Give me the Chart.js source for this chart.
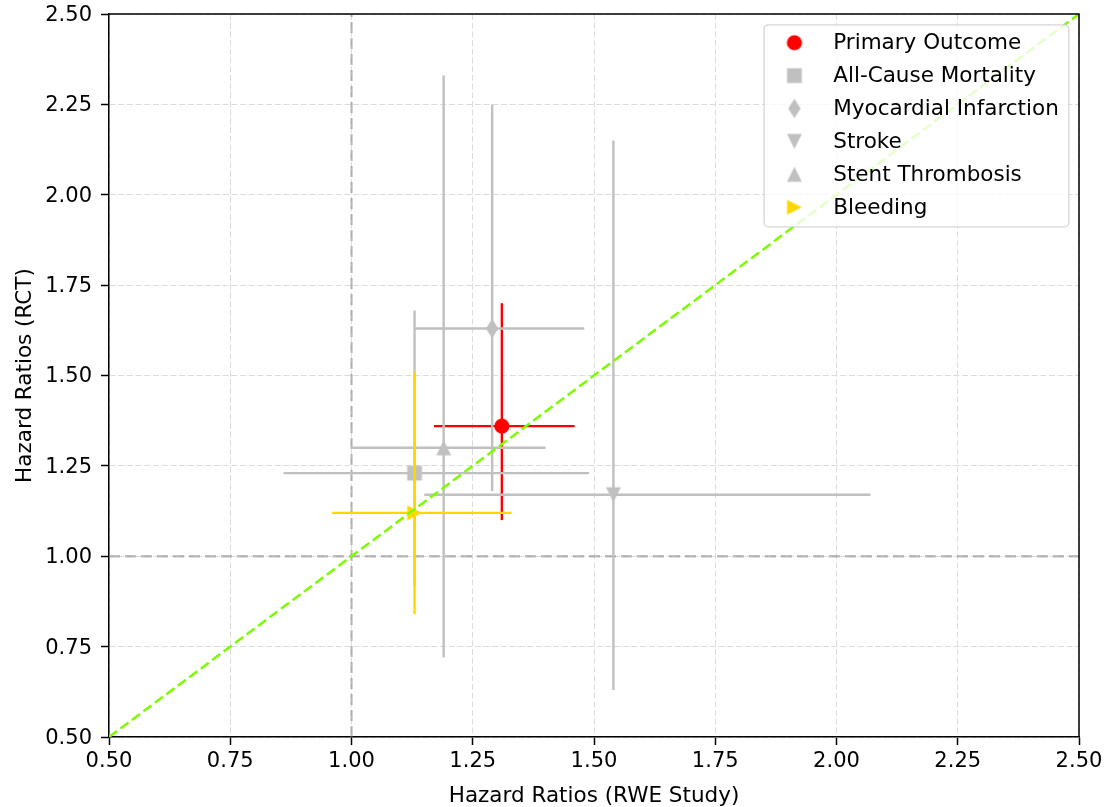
<!DOCTYPE html>
<html>
<head>
<meta charset="utf-8">
<script src="https://cdn.jsdelivr.net/npm/chart.js@4.4.0/dist/chart.umd.min.js"></script>
<style>
  html, body { margin: 0; padding: 0; background: #fff; }
  #wrap { width: 1107px; height: 807px; }
</style>
</head>
<body>
<div id="wrap"><canvas id="hrChart" width="1107" height="807"></canvas></div>
<script>
const outcomes = ['Primary Outcome', 'All-Cause Mortality', 'Myocardial Infarction', 'Stroke', 'Stent Thrombosis', 'Bleeding'];

// hazard ratios with confidence limits
const rweHR = [1.31, 1.13, 1.29, 1.54, 1.19, 1.13];
const rweLow = [1.17, 0.86, 1.13, 1.15, 1.00, 0.96];
const rweHigh = [1.46, 1.49, 1.48, 2.07, 1.40, 1.33];
const rctHR = [1.36, 1.23, 1.63, 1.17, 1.30, 1.12];
const rctLow = [1.10, 0.92, 1.18, 0.63, 0.72, 0.84];
const rctHigh = [1.70, 1.68, 2.25, 2.15, 2.33, 1.51];

const outcomeColors = ['#ff0000', '#c0c0c0', '#c0c0c0', '#c0c0c0', '#c0c0c0', '#ffd700'];
const outcomeMarkers = ['circle', 'square', 'diamond', 'triangleDown', 'triangleUp', 'triangleRight'];

const axisTicks = [0.5, 0.75, 1.0, 1.25, 1.5, 1.75, 2.0, 2.25, 2.5];
const refValue = 1.0;
const identityLine = [0.5, 2.5];

const fontFamily = '"DejaVu Sans", sans-serif';
const legendFont = 21.5;

// matplotlib-like marker shapes, drawn once into small canvases
function makeMarker(shape, color) {
  const size = 26;
  const c = document.createElement('canvas');
  c.width = size;
  c.height = size;
  const ctx = c.getContext('2d');
  const m = size / 2;
  const h = 7.4;
  ctx.fillStyle = color;
  ctx.beginPath();
  if (shape === 'circle') {
    ctx.arc(m, m, h + 0.2, 0, Math.PI * 2);
  } else if (shape === 'square') {
    ctx.rect(m - h, m - h, 2 * h, 2 * h);
  } else if (shape === 'diamond') {
    ctx.moveTo(m, m - 9.8);
    ctx.lineTo(m + 6.2, m);
    ctx.lineTo(m, m + 9.8);
    ctx.lineTo(m - 6.2, m);
  } else if (shape === 'triangleUp') {
    ctx.moveTo(m, m - h);
    ctx.lineTo(m + h, m + h);
    ctx.lineTo(m - h, m + h);
  } else if (shape === 'triangleDown') {
    ctx.moveTo(m, m + h);
    ctx.lineTo(m + h, m - h);
    ctx.lineTo(m - h, m - h);
  } else if (shape === 'triangleRight') {
    ctx.moveTo(m + h, m);
    ctx.lineTo(m - h, m - h);
    ctx.lineTo(m - h, m + h);
  }
  ctx.closePath();
  ctx.fill();
  return c;
}

const markerImgs = outcomes.map((_, i) => makeMarker(outcomeMarkers[i], outcomeColors[i]));

const datasets = [];

datasets.push({
  type: 'line',
  data: identityLine.map(v => ({ x: v, y: v })),
  borderColor: '#7cfc00',
  borderWidth: 2.5,
  borderDash: [10, 4.3],
  pointRadius: 0,
  order: 0
});

outcomes.forEach((name, i) => {
  // later outcomes sit on top, like the original plotting order
  const base = (outcomes.length - i) * 3;
  datasets.push({
    type: 'scatter',
    label: name,
    data: [{ x: rweHR[i], y: rctHR[i] }],
    pointStyle: markerImgs[i],
    pointRadius: 8,
    order: base
  });
  datasets.push({
    type: 'line',
    data: [{ x: rweLow[i], y: rctHR[i] }, { x: rweHigh[i], y: rctHR[i] }],
    borderColor: outcomeColors[i],
    borderWidth: 2.4,
    pointRadius: 0,
    order: base + 1
  });
  datasets.push({
    type: 'line',
    data: [{ x: rweHR[i], y: rctLow[i] }, { x: rweHR[i], y: rctHigh[i] }],
    borderColor: outcomeColors[i],
    borderWidth: 2.4,
    pointRadius: 0,
    order: base + 1
  });
});

const lo = axisTicks[0];
const hi = axisTicks[axisTicks.length - 1];
datasets.push({
  type: 'line',
  data: [{ x: refValue, y: lo }, { x: refValue, y: hi }],
  borderColor: 'rgba(128,128,128,0.5)',
  borderWidth: 2.3,
  borderDash: [11, 5],
  pointRadius: 0,
  order: 100
});
datasets.push({
  type: 'line',
  data: [{ x: lo, y: refValue }, { x: hi, y: refValue }],
  borderColor: 'rgba(128,128,128,0.5)',
  borderWidth: 2.3,
  borderDash: [11, 5],
  pointRadius: 0,
  order: 100
});

const frameAndLegend = {
  id: 'frameAndLegend',
  afterDatasetsDraw(chart) {
    const { ctx, chartArea } = chart;
    ctx.save();
    ctx.strokeStyle = '#000';
    ctx.lineWidth = 1.5;
    ctx.beginPath();
    ctx.moveTo(chartArea.left, chartArea.top);
    ctx.lineTo(chartArea.right, chartArea.top);
    ctx.lineTo(chartArea.right, chartArea.bottom);
    ctx.stroke();

    const padL = 9.4;
    const padR = 10;
    const handle = 41.7;
    const gap = 18;
    ctx.font = `${legendFont}px ${fontFamily}`;
    const textW = Math.max(...outcomes.map(t => ctx.measureText(t).width));
    const w = padL + handle + gap + textW + padR;
    const right = chartArea.right - 10.2;
    const left = right - w;
    const top = chartArea.top + 10.8;
    const rowH = 32.9;
    const first = 17.9;
    const h = first + rowH * (outcomes.length - 1) + 19.6;

    ctx.beginPath();
    ctx.roundRect(left, top, w, h, 4);
    ctx.fillStyle = 'rgba(255,255,255,0.8)';
    ctx.fill();
    ctx.strokeStyle = 'rgba(204,204,204,0.8)';
    ctx.lineWidth = 1.3;
    ctx.stroke();

    ctx.textBaseline = 'middle';
    ctx.textAlign = 'left';
    outcomes.forEach((name, i) => {
      const cy = top + first + rowH * i;
      const img = markerImgs[i];
      ctx.drawImage(img, left + padL + handle / 2 - img.width / 2, cy - img.height / 2);
      ctx.fillStyle = '#000';
      ctx.fillText(name, left + padL + handle + gap, cy + 1);
    });
    ctx.restore();
  }
};

function axisOptions(titleText, isX) {
  return {
    type: 'linear',
    min: lo,
    max: hi,
    afterBuildTicks(scale) {
      scale.ticks = axisTicks.map(v => ({ value: v }));
    },
    afterFit(scale) {
      if (isX) {
        scale.height = 70;
        scale.paddingLeft = 0;
        scale.paddingRight = 0;
      } else {
        scale.width = 109;
        scale.paddingTop = 0;
        scale.paddingBottom = 0;
      }
    },
    ticks: {
      callback: v => v.toFixed(2),
      font: { family: fontFamily, size: 21 },
      color: '#000',
      padding: isX ? 4 : 9,
      labelOffset: isX ? 0 : 1.5,
      maxRotation: 0,
      autoSkip: false
    },
    grid: {
      color: '#dcdcdc',
      lineWidth: 1,
      tickColor: '#000',
      tickLength: 8,
      tickWidth: 1.5
    },
    border: { color: '#000', width: 1.5, dash: [6, 2.7] },
    title: {
      display: true,
      text: titleText,
      color: '#000',
      font: { family: fontFamily, size: legendFont, lineHeight: isX ? 1 : 1.2 },
      padding: isX ? { top: 0, bottom: 0 } : { top: 13, bottom: 0 }
    }
  };
}

new Chart(document.getElementById('hrChart'), {
  type: 'scatter',
  data: { datasets },
  options: {
    responsive: false,
    animation: false,
    events: [],
    layout: { padding: { left: 0, top: 14, right: 28, bottom: 0 } },
    plugins: {
      legend: { display: false },
      tooltip: { enabled: false }
    },
    elements: { line: { tension: 0, fill: false } },
    scales: {
      x: axisOptions('Hazard Ratios (RWE Study)', true),
      y: axisOptions('Hazard Ratios (RCT)', false)
    }
  },
  plugins: [frameAndLegend]
});
</script>
</body>
</html>
